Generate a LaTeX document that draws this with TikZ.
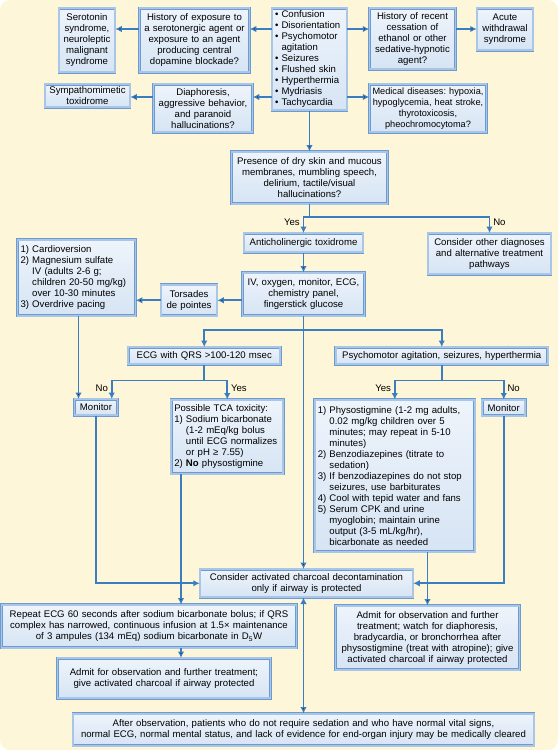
\documentclass[tikz,border=0pt]{standalone}
\usepackage{fontspec}
\setmainfont{Liberation Sans}
\usepackage{xcolor}
\definecolor{cream}{HTML}{FDF6D8}
\definecolor{boxfill}{HTML}{D6E4F4}
\definecolor{boxtop}{HTML}{EEF4FB}
\definecolor{boxband}{HTML}{A9C6E8}
\definecolor{boxline}{HTML}{6C9BD2}
\definecolor{flowblue}{HTML}{3A7DC0}
\usepackage{tikz}
\usetikzlibrary{positioning}
\usetikzlibrary{arrows.meta}
\hyphenpenalty=10000
\exhyphenpenalty=10000
\frenchspacing
\newcommand{\dotpad}{\hphantom{\textbullet\ }}
\newcommand{\numpad}{\hphantom{2) }}
\tikzset{
    box/.style={draw=boxline, double=boxband, double distance=1.8pt, line width=0.5pt,
        top color=boxtop, bottom color=boxfill, align=center, inner xsep=3pt, inner ysep=2pt,
        font=\fontsize{9.6}{11}\selectfont\frenchspacing},
    arr/.style={draw=flowblue, line width=1.6pt, -{Latex[length=6.5pt,width=6.5pt]}},
    lbl/.style={font=\fontsize{9.6}{11}\selectfont, inner sep=3pt}
}

\begin{document}
\begin{tikzpicture}[x=1pt, y=1pt]
    \fill [cream, rounded corners=10pt] (0,0) rectangle (558,-750);
    \useasboundingbox (0,0) rectangle (558,-750);

    \node [box, align=left, text width=69pt, minimum height=102pt, anchor=north] (bul) at (309.5,-8)
        {\textbullet\ Confusion\\\textbullet\ Disorientation\\\textbullet\ Psychomotor\\\dotpad agitation\\\textbullet\ Seizures\\\textbullet\ Flushed skin\\\textbullet\ Hyperthermia\\\textbullet\ Mydriasis\\\textbullet\ Tachycardia};
    \node [box, left=22pt of bul.north west, anchor=north east, text width=104pt, minimum height=64pt] (hx1)
        {History of exposure to\\a serotonergic agent or\\exposure to an agent\\producing central\\dopamine blockade?};
    \node [box, left=24pt of hx1.north west, anchor=north east, text width=50pt, minimum height=64pt] (ss1)
        {Serotonin\\syndrome,\\neuroleptic\\malignant\\syndrome};
    \node [box, right=22pt of bul.north east, anchor=north west, text width=80pt, minimum height=61pt] (hx2)
        {History of recent\\cessation of\\ethanol or other\\sedative-hypnotic\\agent?};
    \node [box, right=21pt of hx2.north east, anchor=north west, text width=50pt, minimum height=42pt] (aw1)
        {Acute\\withdrawal\\syndrome};

    \node [box, below left=76pt and 19pt of bul.north west, text width=93pt, minimum height=48pt] (dp1)
        {Diaphoresis,\\aggressive behavior,\\and paranoid\\hallucinations?};
    \node [box, left=23pt of dp1.north west, anchor=north east, text width=79pt, minimum height=23pt] (sy1)
        {Sympathomimetic\\toxidrome};
    \node [box, below right=76pt and 22pt of bul.north east, text width=113pt, inner xsep=2pt, minimum height=48pt,
        font=\fontsize{9.2}{11}\selectfont\frenchspacing] (md1)
        {Medical diseases: hypoxia,\\hypoglycemia, heat stroke,\\thyrotoxicosis,\\pheochromocytoma?};

    \node [box, below=41pt of bul, text width=150pt, minimum height=52pt] (pr1)
        {Presence of dry skin and mucous\\membranes, mumbling speech,\\delirium, tactile/visual\\hallucinations?};
    \node [box, below=29pt of pr1, xshift=-6pt, text width=113pt, minimum height=19pt] (ac1)
        {Anticholinergic toxidrome};
    \node [box, below right=29pt and 40pt of pr1.south east, text width=117pt, minimum height=41pt] (oth)
        {Consider other diagnoses\\and alternative treatment\\pathways};
    \node [box, below=20pt of ac1, text width=116pt, minimum height=43pt] (iv1)
        {IV, oxygen, monitor, ECG,\\chemistry panel,\\fingerstick glucose};
    \node [box, left=25pt of iv1.south west, anchor=south east, text width=50pt, minimum height=31pt] (td1)
        {Torsades\\de pointes};
    \node [box, align=left, left=25pt of td1.south west, anchor=south east, text width=112pt, minimum height=76pt] (cv1)
        {1) Cardioversion\\2) Magnesium sulfate\\\numpad IV (adults 2-6 g;\\\numpad children 20-50 mg/kg)\\\numpad over 10-30 minutes\\3) Overdrive pacing};

    \node [box, below left=31pt and 23pt of iv1.south, text width=146pt, minimum height=17pt] (qrs)
        {ECG with QRS >100-120 msec};
    \node [box, below right=31pt and 32pt of iv1.south, text width=206pt, minimum height=17pt] (psy)
        {Psychomotor agitation, seizures, hyperthermia};
    \node [box, below right=83pt and 57pt of cv1.south west, text width=37pt, minimum height=16pt] (mo1)
        {Monitor};
    \node [box, align=left, below right=35pt and 43pt of qrs.south west, text width=106pt, minimum height=74pt] (tca)
        {Possible TCA toxicity:\\1) Sodium bicarbonate\\\numpad (1-2 mEq/kg bolus\\\numpad until ECG normalizes\\\numpad or pH ≥ 7.55)\\2) \textbf{No} physostigmine};
    \node [box, align=left, below left=35pt and 21pt of psy.south west, anchor=north west, text width=154pt, minimum height=152pt] (phy)
        {1) Physostigmine (1-2 mg adults,\\\numpad 0.02 mg/kg children over 5\\\numpad minutes; may repeat in 5-10\\\numpad minutes)\\2) Benzodiazepines (titrate to\\\numpad sedation)\\3) If benzodiazepines do not stop\\\numpad seizures, use barbiturates\\4) Cool with tepid water and fans\\5) Serum CPK and urine\\\numpad myoglobin; maintain urine\\\numpad output (3-5 mL/kg/hr),\\\numpad bicarbonate as needed};
    \node [box, right=7pt of phy.north east, anchor=north west, text width=37pt, minimum height=16pt] (mo2)
        {Monitor};

    \node [box, below=253pt of iv1, xshift=3pt, text width=207pt, minimum height=28pt] (chr)
        {Consider activated charcoal decontamination\\only if airway is protected};
    \node [box, below left=7pt and -97pt of chr.south west, text width=289pt, minimum height=43pt] (rep)
        {Repeat ECG 60 seconds after sodium bicarbonate bolus; if QRS\\complex has narrowed, continuous infusion at 1.5× maintenance\\of 3 ampules (134 mEq) sodium bicarbonate in D\textsubscript{5}W};
    \node [box, below right=8pt and -78pt of chr.south east, text width=178pt, minimum height=64pt] (ad2)
        {Admit for observation and further\\treatment; watch for diaphoresis,\\bradycardia, or bronchorrhea after\\physostigmine (treat with atropine); give\\activated charcoal if airway protected};
    \node [box, below right=10pt and 56pt of rep.south west, text width=207pt, minimum height=40pt] (ad1)
        {Admit for observation and further treatment;\\give activated charcoal if airway protected};
    \node [box, below=116pt of chr, xshift=-3pt, text width=455pt, minimum height=32pt] (fin)
        {After observation, patients who do not require sedation and who have normal vital signs,\\normal ECG, normal mental status, and lack of evidence for end-organ injury may be medically cleared};

    \coordinate [below=21pt of bul.north] (r1);
    \coordinate [below=13pt of dp1.north] (r2);
    \coordinate [below=13pt of pr1] (yn);
    \coordinate [below=14pt of iv1] (ivs);
    \coordinate [below=16pt of qrs] (qs);
    \coordinate [below=16pt of psy] (ps);
    \coordinate [right=10pt of tca.south west] (tx);

    \path[arr] (r1 -| bul.west) edge (r1 -| hx1.east)
    (r1 -| hx1.west) edge (r1 -| ss1.east)
    (r1 -| bul.east) edge (r1 -| hx2.west)
    (r1 -| hx2.east) edge (r1 -| aw1.west)
    (r2 -| bul.west) edge (r2 -| dp1.east)
    (r2 -| dp1.west) edge (r2 -| sy1.east)
    (r2 -| bul.east) edge (r2 -| md1.west)
    (bul) edge (pr1)
    (ac1) edge (iv1)
    (iv1.west |- td1) edge (td1)
    (td1) edge (td1 -| cv1.east)
    (iv1) edge (iv1 |- chr.north)
    ([xshift=2pt]cv1.south) edge ([xshift=2pt]cv1.south |- mo1.north)
    (tx) edge (tx |- rep.north)
    (tx |- rep.south) edge (tx |- ad1.north)
    (ad2.north |- phy.south) edge (ad2)
    (chr.south -| iv1) edge (iv1 |- fin.north);

    \draw[arr] (pr1) -- (yn) -| (ac1) node [lbl, pos=0.65, left] {Yes};
    \draw[arr] (yn) -| (oth) node [lbl, pos=0.65, right] {No};
    \draw[arr] (ivs) -| (qrs);
    \draw[arr] (ivs) -| (psy);
    \draw[arr] (qrs) -- (qs) -| ([xshift=-6pt]mo1.north east) node [lbl, pos=0.7, left] {No};
    \draw[arr] (qs) -| (tca) node [lbl, pos=0.7, right] {Yes};
    \draw[arr] (psy) -- (ps) -| (phy) node [lbl, pos=0.7, left] {Yes};
    \draw[arr] (ps) -| (mo2) node [lbl, pos=0.7, right] {No};
    \draw[arr] (mo1) |- (chr);
    \draw[arr] (mo2) |- (chr);
\end{tikzpicture}
\end{document}
